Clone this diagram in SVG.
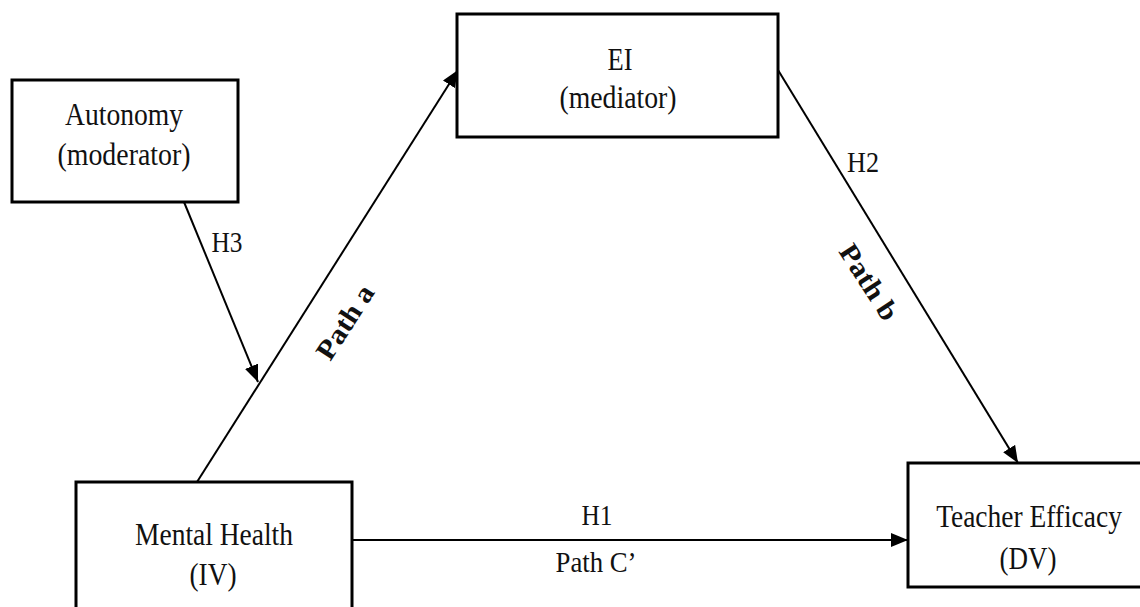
<svg xmlns="http://www.w3.org/2000/svg" width="1140" height="607" viewBox="0 0 1140 607">
<defs>
<style>
.box{fill:#fff;stroke:#000;stroke-width:3}
.t{font-family:"Liberation Serif","Times New Roman",serif;font-size:32px;fill:#111;text-anchor:middle}
.lbl{font-family:"Liberation Serif","Times New Roman",serif;font-size:29px;fill:#111;text-anchor:middle}
.bold{font-family:"Liberation Serif","Times New Roman",serif;font-size:28px;font-weight:bold;fill:#111;text-anchor:middle;dominant-baseline:central}
.c{stroke:#000;stroke-width:2;fill:none;marker-end:url(#ah)}
</style>
<marker id="ah" markerUnits="userSpaceOnUse" markerWidth="18" markerHeight="14" refX="17" refY="7" orient="auto">
<path d="M0,0 L17,7 L0,14 z" fill="#000"/>
</marker>
</defs>
<rect width="1140" height="607" fill="#fff"/>
<g id="connectors">
<line class="c" x1="197" y1="482" x2="458" y2="70"/>
<line class="c" x1="778" y1="70" x2="1018" y2="463"/>
<line class="c" x1="184" y1="202" x2="258" y2="382"/>
<line class="c" x1="352" y1="540" x2="908" y2="540"/>
<text class="lbl" x="227" y="252" textLength="31" lengthAdjust="spacingAndGlyphs">H3</text>
<text class="lbl" x="863" y="172" textLength="32" lengthAdjust="spacingAndGlyphs">H2</text>
<text class="lbl" x="597" y="525" textLength="31" lengthAdjust="spacingAndGlyphs">H1</text>
<text class="lbl" x="596" y="572" textLength="81" lengthAdjust="spacingAndGlyphs">Path C’</text>
<text class="bold" transform="translate(345,322) rotate(-57)" textLength="83" lengthAdjust="spacingAndGlyphs">Path a</text>
<text class="bold" transform="translate(869,282) rotate(57)" textLength="85" lengthAdjust="spacingAndGlyphs">Path b</text>
</g>
<g id="autonomy">
<rect class="box" x="12" y="80" width="226" height="122"/>
<text class="t" x="124" y="125" textLength="118" lengthAdjust="spacingAndGlyphs">Autonomy</text>
<text class="t" x="124" y="165" textLength="133" lengthAdjust="spacingAndGlyphs">(moderator)</text>
</g>
<g id="ei">
<rect class="box" x="457" y="14" width="321" height="123"/>
<text class="t" x="620" y="70" textLength="25" lengthAdjust="spacingAndGlyphs">EI</text>
<text class="t" x="618" y="108" textLength="117" lengthAdjust="spacingAndGlyphs">(mediator)</text>
</g>
<g id="mental-health">
<rect class="box" x="76" y="482" width="276" height="140"/>
<text class="t" x="214" y="545" textLength="158" lengthAdjust="spacingAndGlyphs">Mental Health</text>
<text class="t" x="213" y="585" textLength="47" lengthAdjust="spacingAndGlyphs">(IV)</text>
</g>
<g id="teacher-efficacy">
<rect class="box" x="908" y="463" width="245" height="124"/>
<text class="t" transform="translate(1029,527) scale(0.858,1)" x="0" y="0">Teacher Efficacy</text>
<text class="t" x="1028" y="569" textLength="57" lengthAdjust="spacingAndGlyphs">(DV)</text>
</g>
</svg>
